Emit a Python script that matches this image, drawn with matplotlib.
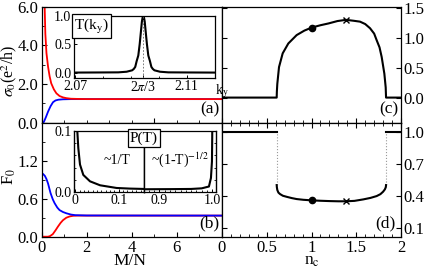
import matplotlib
matplotlib.use("Agg")
import matplotlib.pyplot as plt
from matplotlib.ticker import MultipleLocator, FixedLocator

# panel (a): conductance vs M/N
a_red_x = [0.10, 0.14, 0.17, 0.22, 0.29, 0.36, 0.43, 0.55, 0.66, 0.80, 0.95, 1.10, 1.30, 1.60, 2.0, 8.0]
a_red_y = [8.0, 6.0, 4.6, 3.6, 2.9, 2.4, 2.04, 1.72, 1.52, 1.38, 1.31, 1.27, 1.24, 1.23, 1.22, 1.22]
a_blue_x = [0.0, 0.08, 0.12, 0.20, 0.29, 0.40, 0.51, 0.62, 0.75, 0.95, 1.3, 2.0, 8.0]
a_blue_y = [0.0, 0.0, 0.08, 0.30, 0.57, 0.85, 1.06, 1.15, 1.19, 1.21, 1.22, 1.22, 1.22]

# inset (a): T(k_y)
ky = [2.069, 2.078, 2.0854, 2.0884, 2.0904, 2.0910, 2.0915, 2.0920, 2.0926, 2.0931, 2.0936,
      2.0939, 2.0942, 2.0944, 2.0946, 2.0949, 2.0952, 2.0957, 2.0962, 2.0968, 2.0973,
      2.0978, 2.0984, 2.1004, 2.1034, 2.1108, 2.12]
t_ky = [0.0, 0.002, 0.004, 0.015, 0.04, 0.065, 0.10, 0.20, 0.30, 0.50, 0.75, 0.90, 0.98,
        1.0, 0.98, 0.90, 0.75, 0.50, 0.30, 0.20, 0.10, 0.065, 0.04, 0.015, 0.004, 0.002, 0.0]
k_dirac = 2.0944

# panel (b): Fano factor vs M/N
b_blue_x = [0.0, 0.07, 0.15, 0.22, 0.29, 0.40, 0.50, 0.58, 0.70, 0.80, 0.95, 1.10, 1.30, 1.50, 2.0, 8.0]
b_blue_y = [1.0, 0.99, 0.96, 0.91, 0.84, 0.69, 0.59, 0.53, 0.46, 0.42, 0.39, 0.37, 0.35, 0.34, 0.335, 0.333]
b_red_x = [0.0, 0.29, 0.38, 0.50, 0.62, 0.73, 0.85, 0.95, 1.10, 1.25, 1.40, 1.60, 2.0, 8.0]
b_red_y = [0.0, 0.0, 0.01, 0.04, 0.10, 0.16, 0.22, 0.26, 0.30, 0.32, 0.33, 0.333, 0.333, 0.333]

# inset (b): P(T), split axis
t_lo = [0.0042, 0.0046, 0.0069, 0.0108, 0.0184, 0.0338, 0.057, 0.095, 0.125, 0.158]
p_lo = [0.12, 0.1, 0.072, 0.045, 0.028, 0.0175, 0.011, 0.0066, 0.0056, 0.005]
t_hi = [0.871, 0.92, 0.96, 0.98, 0.9936, 0.9974, 0.9993, 0.9998, 1.0]
p_hi = [0.0045, 0.0047, 0.005, 0.006, 0.009, 0.023, 0.05, 0.09, 0.12]

# panel (c): conductance vs n_c
nc = [0.0, 0.611, 0.613, 0.618, 0.637, 0.678, 0.741, 0.834, 0.92, 1.0, 1.1, 1.19, 1.29,
      1.385, 1.47, 1.542, 1.60, 1.654, 1.70, 1.728, 1.76, 1.784, 1.814, 1.829, 1.833, 2.0]
sigma_nc = [0.0, 0.0, 0.10, 0.23, 0.51, 0.74, 0.905, 1.045, 1.12, 1.17, 1.21, 1.24, 1.28,
            1.30, 1.285, 1.27, 1.23, 1.16, 1.07, 0.96, 0.84, 0.68, 0.40, 0.17, 0.0, 0.0]

# panel (d): Fano factor vs n_c
nc_f = [0.611, 0.613, 0.618, 0.630, 0.648, 0.68, 0.723, 0.78, 0.834, 0.91, 1.0, 1.1, 1.2,
        1.3, 1.385, 1.48, 1.58, 1.66, 1.728, 1.77, 1.80, 1.82, 1.83, 1.833]
fano_nc = [0.50, 0.48, 0.454, 0.43, 0.416, 0.40, 0.39, 0.378, 0.369, 0.362, 0.357, 0.353,
           0.35, 0.348, 0.348, 0.352, 0.366, 0.38, 0.397, 0.415, 0.438, 0.46, 0.48, 0.50]
nc_edges = [0.611, 1.833]
marks_nc = [1.0, 1.385]
marks_sigma = [1.17, 1.30]
marks_fano = [0.357, 0.348]

plt.rcParams["font.family"] = ["Liberation Serif", "DejaVu Serif"]
plt.rcParams["mathtext.fontset"] = "stix"
plt.rcParams["xtick.direction"] = "in"
plt.rcParams["ytick.direction"] = "in"
plt.rcParams["axes.linewidth"] = 0.9

W, H = 425, 271
fig = plt.figure(figsize=(W / 100, H / 100), dpi=100)


def fax(x0, y0, x1, y1):
    # pixel box (top-left origin) -> figure axes
    return fig.add_axes([x0 / W, 1 - y1 / H, (x1 - x0) / W, (y1 - y0) / H])


FS = 12
ax_a = fax(41.5, 6.7, 222, 122.7)
ax_b = fax(41.5, 122.7, 222, 236.7)
ax_c = fax(222, 6.7, 401, 122.7)
ax_d = fax(222, 122.7, 401, 236.7)

for ax in (ax_a, ax_b, ax_c, ax_d):
    ax.tick_params(which="major", length=3.5, width=0.8, labelsize=FS)
    ax.tick_params(which="minor", length=2, width=0.6)
    ax.tick_params(axis="x", pad=2.5)
for ax in (ax_a, ax_b):
    ax.tick_params(axis="y", pad=2.5)

# (a)
ax_a.plot(a_blue_x, a_blue_y, color="#0000ff", lw=1.3)
ax_a.plot(a_red_x, a_red_y, color="#ff0000", lw=1.3)
ax_a.set_xlim(0, 8)
ax_a.set_ylim(0, 6)
ax_a.yaxis.set_major_locator(MultipleLocator(2))
ax_a.yaxis.set_minor_locator(MultipleLocator(1))
ax_a.xaxis.set_minor_locator(MultipleLocator(1))
ax_a.yaxis.set_major_formatter(plt.FormatStrFormatter("%.1f"))
ax_a.tick_params(labelbottom=False)
ax_a.text(-0.177, 0.45, r"$\sigma_0$(e$^2$/h)", transform=ax_a.transAxes, rotation=90,
          ha="center", va="center", fontsize=11.5)
ax_a.text(0.985, 0.05, "(a)", transform=ax_a.transAxes, ha="right", va="bottom", fontsize=12.5)

# (b)
ax_b.plot(b_red_x, b_red_y, color="#ff0000", lw=1.3)
ax_b.plot(b_blue_x, b_blue_y, color="#0000ff", lw=1.3)
ax_b.set_xlim(0, 8)
ax_b.set_ylim(0, 1.8)
ax_b.set_xticks([0, 2, 4, 6])
ax_b.xaxis.set_minor_locator(MultipleLocator(1))
ax_b.yaxis.set_major_locator(FixedLocator([0, 0.6, 1.2]))
ax_b.yaxis.set_minor_locator(FixedLocator([0.3, 0.9, 1.5]))
ax_b.yaxis.set_major_formatter(plt.FormatStrFormatter("%.1f"))
ax_b.text(-0.18, 0.53, r"F$_0$", transform=ax_b.transAxes, rotation=90,
          ha="center", va="center", fontsize=12)
ax_b.text(0.49, -0.213, "M/N", transform=ax_b.transAxes, ha="center", va="center",
          fontsize=12.5)
ax_b.text(0.985, 0.05, "(b)", transform=ax_b.transAxes, ha="right", va="bottom", fontsize=12.5)

# (c)
ax_c.plot(nc, sigma_nc, color="black", lw=1.5)
ax_c.plot(marks_nc[0], marks_sigma[0], "o", color="black", ms=4.5)
ax_c.plot(marks_nc[1], marks_sigma[1], "x", color="black", ms=4.5, mew=1.0)
ax_c.set_xlim(0, 2)
ax_c.set_ylim(-0.42, 1.52)
ax_c.set_yticks([0, 0.5, 1.0, 1.5])
ax_c.yaxis.set_major_formatter(plt.FormatStrFormatter("%.1f"))
ax_c.xaxis.set_major_locator(MultipleLocator(0.5))
ax_c.xaxis.set_minor_locator(MultipleLocator(0.1))
ax_c.tick_params(which="both", labelbottom=False, left=True, right=True,
                 labelleft=False, labelright=True)
ax_c.tick_params(axis="y", pad=1.5)
ax_c.text(0.985, 0.05, "(c)", transform=ax_c.transAxes, ha="right", va="bottom", fontsize=12.5)

# (d)
ax_d.plot([0, nc_edges[0]], [1, 1], color="black", lw=1.5)
ax_d.plot([nc_edges[1], 2], [1, 1], color="black", lw=1.5)
for e in nc_edges:
    ax_d.plot([e, e], [fano_nc[0], 1], color="0.6", lw=0.8, ls=":")
ax_d.plot(nc_f, fano_nc, color="black", lw=1.5)
ax_d.plot(marks_nc[0], marks_fano[0], "o", color="black", ms=4.5)
ax_d.plot(marks_nc[1], marks_fano[1], "x", color="black", ms=4.5, mew=1.0)
ax_d.set_xlim(0, 2)
ax_d.set_ylim(0.016, 1.085)
ax_d.set_yticks([0.1, 0.4, 0.7, 1.0])
ax_d.yaxis.set_major_formatter(plt.FormatStrFormatter("%.1f"))
ax_d.set_xticks([0, 0.5, 1, 1.5, 2])
ax_d.set_xticklabels(["0", "0.5", "1", "1.5", "2"])
ax_d.xaxis.set_minor_locator(MultipleLocator(0.1))
ax_d.tick_params(which="both", left=True, right=True, top=True,
                 labelleft=False, labelright=True)
ax_d.tick_params(axis="y", pad=1.5)
ax_d.text(0.5, -0.213, r"n$_{\rm c}$", transform=ax_d.transAxes, ha="center", va="center",
          fontsize=12.5)
ax_d.text(0.97, 0.05, "(d)", transform=ax_d.transAxes, ha="right", va="bottom", fontsize=12.5)

# inset (a): T(k_y)
FI = 10
ins_a = fax(73.5, 15.7, 214.5, 77.7)
ins_a.plot(ky, t_ky, color="black", lw=1.5)
ins_a.axvline(k_dirac, color="0.4", lw=0.6, ls=(0, (2, 2)))
ins_a.set_xlim(2.0693, 2.12)
ins_a.set_ylim(-0.09, 1.0)
ins_a.set_xticks([2.07, k_dirac, 2.11])
ins_a.set_xticklabels(["2.07", r"2$\pi$/3", "2.11"])
ins_a.xaxis.set_minor_locator(FixedLocator([2.08, 2.09, 2.10]))
ins_a.set_yticks([0, 0.5, 1.0])
ins_a.yaxis.set_major_formatter(plt.FormatStrFormatter("%.1f"))
ins_a.tick_params(which="major", length=2.5, width=0.7, labelsize=FI, pad=1.5)
ins_a.tick_params(which="minor", length=1.5, width=0.6)
ins_a.text(1.0, -0.07, r"k$_{\rm y}$", transform=ins_a.transAxes, ha="left", va="top",
           fontsize=FI)
ins_a.text(0.006, 0.985, r"T(k$_{\rm y}$)", transform=ins_a.transAxes, ha="left", va="top",
           fontsize=11, zorder=5,
           bbox=dict(boxstyle="square,pad=0.15", fc="white", ec="black", lw=0.9))

# inset (b): P(T) on split axis
ins_bl = fax(74, 131, 144, 192)
ins_br = fax(144, 131, 215.5, 192)
ins_bl.plot(t_lo, p_lo, color="black", lw=1.5)
ins_br.plot(t_hi, p_hi, color="black", lw=1.5)
ins_bl.set_xlim(-0.003, 0.158)
ins_br.set_xlim(0.871, 1.006)
for ins in (ins_bl, ins_br):
    ins.set_ylim(0, 0.1)
    ins.tick_params(which="major", length=2.5, width=0.7, labelsize=FI, pad=1.5)
    ins.tick_params(which="minor", length=1.5, width=0.6)
    ins.spines["left"].set_linewidth(1.0)
    ins.spines["right"].set_linewidth(1.0)
ins_bl.set_xticks([0, 0.1])
ins_bl.set_xticklabels(["0", "0.1"])
ins_bl.xaxis.set_minor_locator(MultipleLocator(0.01))
ins_bl.set_yticks([0, 0.1])
ins_bl.set_yticklabels(["0.0", "0.1"])
ins_bl.yaxis.set_minor_locator(MultipleLocator(0.02))
ins_br.set_xticks([0.9, 1.0])
ins_br.set_xticklabels(["0.9", "1.0"])
ins_br.xaxis.set_minor_locator(MultipleLocator(0.01))
ins_br.set_yticks([0, 0.1])
ins_br.yaxis.set_minor_locator(MultipleLocator(0.02))
ins_br.tick_params(which="both", left=False, right=True, labelleft=False)
ins_bl.text(0.61, 0.51, "~1/T", transform=ins_bl.transAxes, ha="center", va="center",
            fontsize=FI)
ins_br.text(0.5, 0.53, r"~(1-T)$^{-1/2}$", transform=ins_br.transAxes, ha="center",
            va="center", fontsize=FI)
fig.text(144 / W, 1 - 131.5 / H, "P(T)", ha="center", va="top", fontsize=11, zorder=10,
         bbox=dict(boxstyle="square,pad=0.15", fc="white", ec="black", lw=0.9))

fig.savefig("out.png", dpi=100)
